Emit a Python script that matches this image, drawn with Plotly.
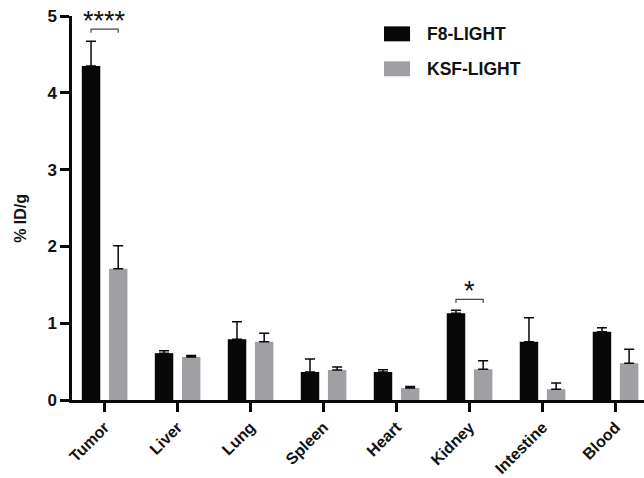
import plotly.graph_objects as go

organs = ["Tumor", "Liver", "Lung", "Spleen", "Heart", "Kidney", "Intestine", "Blood"]
f8_mean = [4.35, 0.61, 0.79, 0.365, 0.365, 1.13, 0.76, 0.89]
f8_err = [0.32, 0.03, 0.23, 0.17, 0.03, 0.04, 0.31, 0.05]
ksf_mean = [1.71, 0.56, 0.76, 0.39, 0.156, 0.40, 0.14, 0.48]
ksf_err = [0.30, 0.02, 0.11, 0.04, 0.02, 0.11, 0.08, 0.18]
series_names = ["F8-LIGHT", "KSF-LIGHT"]
y_ticks = [0, 1, 2, 3, 4, 5]
sig_marks = [("Tumor", "****", 4.83), ("Kidney", "*", 1.31)]

BLACK = "#080808"
GRAY = "#a0a0a4"
FONT = "Liberation Sans, Arial, sans-serif"
BW = 0.253
OFF = 0.186

fig = go.Figure()
for name, vals, errs, col, off in [
    (series_names[0], f8_mean, f8_err, BLACK, -OFF),
    (series_names[1], ksf_mean, ksf_err, GRAY, OFF),
]:
    fig.add_trace(go.Bar(
        x=organs, y=vals, name=name, marker=dict(color=col, line=dict(width=0)),
        width=BW, offset=off - BW / 2,
        error_y=dict(type="data", array=errs, arrayminus=[0] * len(errs), symmetric=False,
                     color=BLACK, thickness=1.5, width=5),
        showlegend=False,
    ))

shapes = []
annotations = []
for organ, label, yb in sig_marks:
    i = organs.index(organ)
    x0, x1 = i - OFF, i + OFF
    shapes.append(dict(type="path", xref="x", yref="y",
                       path=f"M {x0},{yb-0.048} L {x0},{yb} L {x1},{yb} L {x1},{yb-0.048}",
                       line=dict(color="#444444", width=1.2)))
    annotations.append(dict(x=i, y=yb, xref="x", yref="y", text=label, showarrow=False,
                            yanchor="bottom", yshift=-9,
                            font=dict(family=FONT, size=27, color="#111111")))

# manual legend
for k, (name, col) in enumerate(zip(series_names, [BLACK, GRAY])):
    y0 = 0.934 - k * 0.091
    shapes.append(dict(type="rect", xref="paper", yref="paper", x0=0.5455, x1=0.591,
                       y0=y0, y1=y0 + 0.039, fillcolor=col, line=dict(width=0)))
    annotations.append(dict(x=0.617, y=y0 + 0.0195, xref="paper", yref="paper", text=name,
                            showarrow=False, xanchor="left", yanchor="middle",
                            font=dict(family=FONT, size=17.5, color="#111111", weight="bold")))

# y-axis title
annotations.append(dict(x=-0.089, y=0.472, xref="paper", yref="paper", text="% ID/g",
                        showarrow=False, textangle=-90, xanchor="center", yanchor="middle",
                        font=dict(family=FONT, size=16, color="#111111", weight="bold")))

fig.update_layout(
    width=644, height=478,
    margin=dict(l=72, r=0, t=16, b=78),
    plot_bgcolor="white", paper_bgcolor="white",
    barmode="overlay",
    shapes=shapes, annotations=annotations,
    font=dict(family=FONT, color="#111111"),
)
fig.update_xaxes(
    type="category", range=[-0.447, 7.39], automargin=False,
    showline=True, linecolor=BLACK, linewidth=2.5,
    ticks="outside", ticklen=9, tickwidth=2.5, tickcolor=BLACK,
    tickangle=-45, tickfont=dict(family=FONT, size=16, color="#111111", weight="bold"),
    showgrid=False, zeroline=False,
)
fig.update_yaxes(
    range=[0, 5], tickvals=y_ticks, ticktext=[str(t) for t in y_ticks], automargin=False,
    showline=True, linecolor=BLACK, linewidth=2.5,
    ticks="outside", ticklen=9, tickwidth=2.5, tickcolor=BLACK,
    tickfont=dict(family=FONT, size=17, color="#111111", weight="bold"),
    showgrid=False, zeroline=False,
)

# remove the browser's default 8px body margin so the figure fills the window exactly
fig.write_html("out.html", config={"displayModeBar": False},
               post_script="document.body.style.margin='0';")
